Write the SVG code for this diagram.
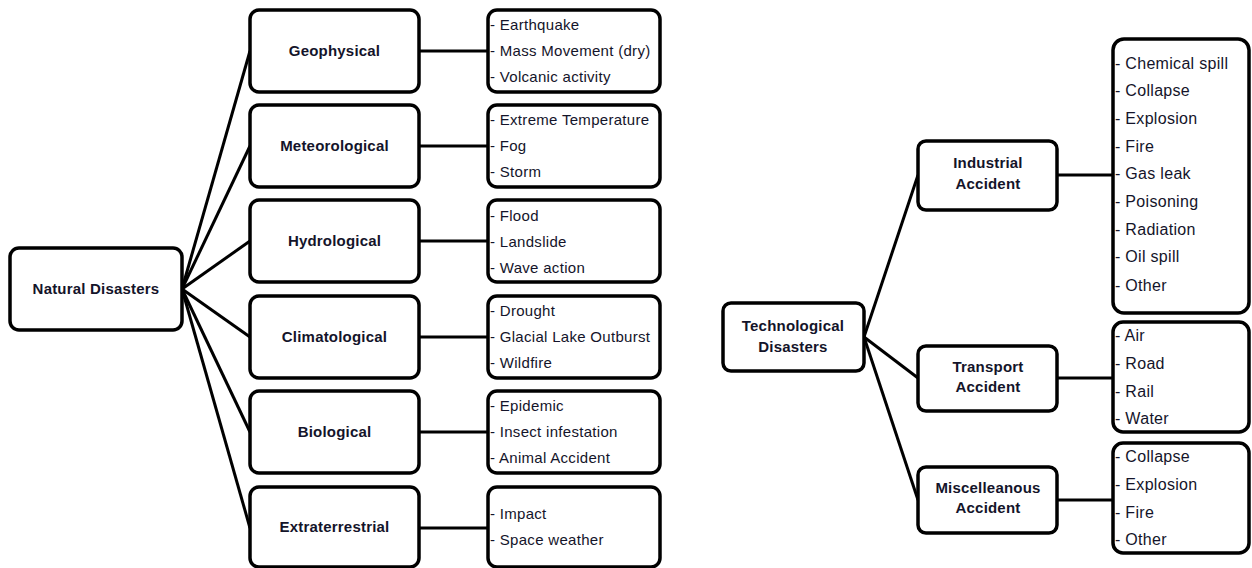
<svg xmlns="http://www.w3.org/2000/svg" width="1252" height="568" viewBox="0 0 1252 568">
<style>
.box{fill:#fff;stroke:#000;stroke-width:3.5}
.ln{stroke:#000;stroke-width:3;fill:none}
.b{font-family:"Liberation Sans",Arial,sans-serif;font-weight:bold;font-size:15px;fill:#14142a;text-anchor:middle;letter-spacing:0.2px}
.t{font-family:"Liberation Sans",Arial,sans-serif;font-size:15px;fill:#14142a;letter-spacing:0.3px}
.r{font-family:"Liberation Sans",Arial,sans-serif;font-size:16px;fill:#14142a;letter-spacing:0.3px}
</style>
<rect width="1252" height="568" fill="#fff"/>
<g id="connectors">
<line class="ln" x1="182" y1="289" x2="250" y2="51"/>
<line class="ln" x1="182" y1="289" x2="250" y2="146"/>
<line class="ln" x1="182" y1="289" x2="250" y2="241"/>
<line class="ln" x1="182" y1="289" x2="250" y2="337"/>
<line class="ln" x1="182" y1="289" x2="250" y2="432"/>
<line class="ln" x1="182" y1="289" x2="250" y2="528"/>
<line class="ln" x1="419" y1="51" x2="488" y2="51"/>
<line class="ln" x1="419" y1="146" x2="488" y2="146"/>
<line class="ln" x1="419" y1="241" x2="488" y2="241"/>
<line class="ln" x1="419" y1="337" x2="488" y2="337"/>
<line class="ln" x1="419" y1="432" x2="488" y2="432"/>
<line class="ln" x1="419" y1="528" x2="488" y2="528"/>
<line class="ln" x1="864" y1="337" x2="918" y2="175"/>
<line class="ln" x1="864" y1="337" x2="918" y2="378"/>
<line class="ln" x1="864" y1="337" x2="918" y2="500"/>
<line class="ln" x1="1057" y1="175" x2="1113" y2="175"/>
<line class="ln" x1="1057" y1="378" x2="1113" y2="378"/>
<line class="ln" x1="1057" y1="500" x2="1113" y2="500"/>
</g>
<g id="natural">
<rect class="box" x="10" y="248" width="172" height="82" rx="9"/>
<text class="b" x="96" y="294">Natural Disasters</text>
</g>
<g id="geophysical">
<rect class="box" x="250" y="10" width="169" height="82" rx="9"/>
<text class="b" x="334.5" y="56">Geophysical</text>
</g>
<g id="meteorological">
<rect class="box" x="250" y="105" width="169" height="82" rx="9"/>
<text class="b" x="334.5" y="151">Meteorological</text>
</g>
<g id="hydrological">
<rect class="box" x="250" y="200" width="169" height="82" rx="9"/>
<text class="b" x="334.5" y="246">Hydrological</text>
</g>
<g id="climatological">
<rect class="box" x="250" y="296" width="169" height="82" rx="9"/>
<text class="b" x="334.5" y="342">Climatological</text>
</g>
<g id="biological">
<rect class="box" x="250" y="391" width="169" height="82" rx="9"/>
<text class="b" x="334.5" y="437">Biological</text>
</g>
<g id="extraterrestrial">
<rect class="box" x="250" y="487" width="169" height="80" rx="9"/>
<text class="b" x="334.5" y="532">Extraterrestrial</text>
</g>
<g id="geo-list">
<rect class="box" x="488" y="10" width="172" height="82" rx="9"/>
<text class="t" x="490" y="30">- Earthquake</text>
<text class="t" x="490" y="56">- Mass Movement (dry)</text>
<text class="t" x="490" y="82">- Volcanic activity</text>
</g>
<g id="met-list">
<rect class="box" x="488" y="105" width="172" height="82" rx="9"/>
<text class="t" x="490" y="125">- Extreme Temperature</text>
<text class="t" x="490" y="151">- Fog</text>
<text class="t" x="490" y="177">- Storm</text>
</g>
<g id="hyd-list">
<rect class="box" x="488" y="200" width="172" height="82" rx="9"/>
<text class="t" x="490" y="221">- Flood</text>
<text class="t" x="490" y="247">- Landslide</text>
<text class="t" x="490" y="273">- Wave action</text>
</g>
<g id="cli-list">
<rect class="box" x="488" y="296" width="172" height="82" rx="9"/>
<text class="t" x="490" y="316">- Drought</text>
<text class="t" x="490" y="342">- Glacial Lake Outburst</text>
<text class="t" x="490" y="368">- Wildfire</text>
</g>
<g id="bio-list">
<rect class="box" x="488" y="391" width="172" height="82" rx="9"/>
<text class="t" x="490" y="411">- Epidemic</text>
<text class="t" x="490" y="437">- Insect infestation</text>
<text class="t" x="490" y="463">- Animal Accident</text>
</g>
<g id="ext-list">
<rect class="box" x="488" y="487" width="172" height="80" rx="9"/>
<text class="t" x="490" y="519">- Impact</text>
<text class="t" x="490" y="545">- Space weather</text>
</g>
<g id="technological">
<rect class="box" x="723" y="303" width="141" height="68" rx="8"/>
<text class="b" x="793" y="331">Technological</text>
<text class="b" x="793" y="352">Disasters</text>
</g>
<g id="industrial">
<rect class="box" x="918" y="141" width="139" height="69" rx="8"/>
<text class="b" x="988" y="168">Industrial</text>
<text class="b" x="988" y="189">Accident</text>
</g>
<g id="transport">
<rect class="box" x="918" y="346" width="139" height="65" rx="8"/>
<text class="b" x="988" y="372">Transport</text>
<text class="b" x="988" y="392">Accident</text>
</g>
<g id="misc">
<rect class="box" x="918" y="467" width="139" height="66" rx="8"/>
<text class="b" x="988" y="493">Miscelleanous</text>
<text class="b" x="988" y="513">Accident</text>
</g>
<g id="ind-list">
<rect class="box" x="1113" y="39" width="136" height="274" rx="11"/>
<text class="r" x="1115" y="69">- Chemical spill</text>
<text class="r" x="1115" y="96">- Collapse</text>
<text class="r" x="1115" y="124">- Explosion</text>
<text class="r" x="1115" y="152">- Fire</text>
<text class="r" x="1115" y="179">- Gas leak</text>
<text class="r" x="1115" y="207">- Poisoning</text>
<text class="r" x="1115" y="235">- Radiation</text>
<text class="r" x="1115" y="262">- Oil spill</text>
<text class="r" x="1115" y="291">- Other</text>
</g>
<g id="tra-list">
<rect class="box" x="1113" y="322" width="136" height="110" rx="10"/>
<text class="r" x="1115" y="341">- Air</text>
<text class="r" x="1115" y="369">- Road</text>
<text class="r" x="1115" y="397">- Rail</text>
<text class="r" x="1115" y="424">- Water</text>
</g>
<g id="misc-list">
<rect class="box" x="1113" y="443" width="136" height="110" rx="10"/>
<text class="r" x="1115" y="462">- Collapse</text>
<text class="r" x="1115" y="490">- Explosion</text>
<text class="r" x="1115" y="518">- Fire</text>
<text class="r" x="1115" y="545">- Other</text>
</g>
</svg>
